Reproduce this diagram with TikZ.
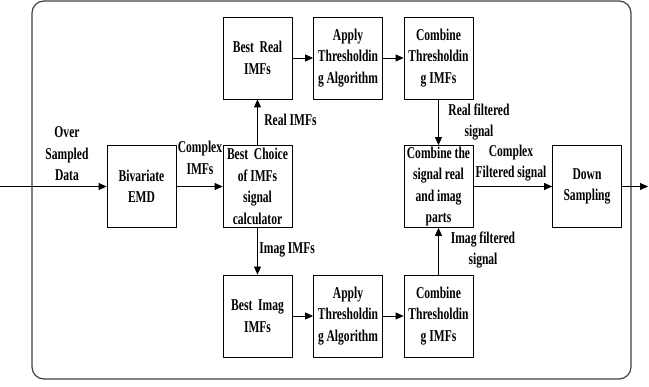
\documentclass[tikz,border=0pt]{standalone}
\usepackage{fontspec}
\setmainfont[FakeStretch=0.7]{Liberation Serif}
\usetikzlibrary{arrows.meta}
\tikzset{
  blk/.style={draw, line width=0.8pt, minimum width=69pt, minimum height=82pt, inner sep=0pt, align=center},
  lbl/.style={inner sep=0pt, align=center}
}
\begin{document}
\begin{tikzpicture}[x=1pt, y=-1pt, font=\bfseries\fontsize{16.5}{21.5}\selectfont, line join=round, line width=0.8pt, >={Triangle[length=8pt,width=7pt]}]
\useasboundingbox (0,0) rectangle (649,387);
\draw[rounded corners=12pt, line width=1.2pt, black!75] (32,1) rectangle (631,379);
\node[blk] (emd) at (141.5,186.5) {Bivariate\\EMD};
\node[blk] (choice) at (257.5,186.5) {Best\ \ Choice\\of IMFs\\signal\\calculator};
\node[blk] (realbest) at (257.5,58) {Best\ \ Real\\IMFs};
\node[blk] (realthr) at (348,58) {Apply\\Thresholdin\\g Algorithm};
\node[blk] (realcomb) at (438.5,58) {Combine\\Thresholdin\\g IMFs};
\node[blk] (imagbest) at (257.5,316) {Best\ \ Imag\\IMFs};
\node[blk] (imagthr) at (348,316) {Apply\\Thresholdin\\g Algorithm};
\node[blk] (imagcomb) at (438.5,316) {Combine\\Thresholdin\\g IMFs};
\node[blk] (merge) at (438.5,186.5) {Combine the\\signal real\\and imag\\parts};
\node[blk] (down) at (587,186.5) {Down\\Sampling};
\coordinate (in) at (0,186.5);
\coordinate (out) at (648,186.5);
\draw[->] (in) -- (emd);
\draw[->] (emd) -- (choice);
\draw[->] (choice) -- (realbest);
\draw[->] (choice) -- (imagbest);
\draw[->] (realbest) -- (realthr);
\draw[->] (realthr) -- (realcomb);
\draw[->] (imagbest) -- (imagthr);
\draw[->] (imagthr) -- (imagcomb);
\draw[->] (realcomb) -- (merge);
\draw[->] (imagcomb) -- (merge);
\draw[->] (merge) -- (down);
\draw[->] (down) -- (out);
\node[lbl] (inlbl) at (67,154) {Over\\Sampled\\Data};
\node[lbl] (cplxlbl) at (200,158) {Complex\\IMFs};
\node[lbl, anchor=west] (reallbl) at (264,120) {Real IMFs};
\node[lbl, anchor=west] (imaglbl) at (259,250) {Imag IMFs};
\node[lbl] (rfiltlbl) at (479,122) {Real filtered\\signal};
\node[lbl] (cfiltlbl) at (511,163) {Complex\\Filtered signal};
\node[lbl] (ifiltlbl) at (483,250) {Imag filtered\\signal};
\end{tikzpicture}
\end{document}
